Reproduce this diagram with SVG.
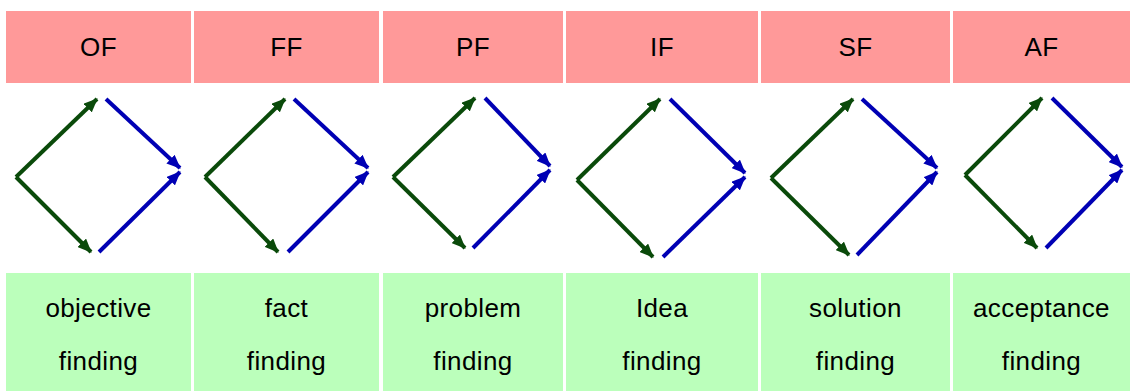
<svg xmlns="http://www.w3.org/2000/svg" width="1131" height="391" viewBox="0 0 1131 391">
<style>
.hd{fill:#ff9999}
.ft{fill:#bbffbb}
.t{font-family:"Liberation Sans",Arial,sans-serif;font-size:26px;fill:#000;text-anchor:middle;letter-spacing:0.4px}
.g{stroke:#0a4a0a;stroke-width:4;fill:none;marker-end:url(#ag)}
.b{stroke:#0000b4;stroke-width:4;fill:none;marker-end:url(#ab)}
</style>
<defs>
<marker id="ag" markerUnits="userSpaceOnUse" markerWidth="14" markerHeight="12" refX="13" refY="6" orient="auto"><path d="M0,0 L14,6 L0,12 Z" fill="#0a4a0a"/></marker>
<marker id="ab" markerUnits="userSpaceOnUse" markerWidth="14" markerHeight="12" refX="13" refY="6" orient="auto"><path d="M0,0 L14,6 L0,12 Z" fill="#0000b4"/></marker>
</defs>
<rect width="1131" height="391" fill="#fff"/>
<g id="col-OF">
<rect class="hd" x="6" y="11" width="185" height="72"/>
<text class="t" x="98.5" y="56">OF</text>
<rect class="ft" x="6" y="273" width="185" height="118"/>
<text class="t" x="98.5" y="317">objective</text>
<text class="t" x="98.5" y="370">finding</text>
</g>
<g id="col-FF">
<rect class="hd" x="194" y="11" width="185" height="72"/>
<text class="t" x="286.5" y="56">FF</text>
<rect class="ft" x="194" y="273" width="185" height="118"/>
<text class="t" x="286.5" y="317">fact</text>
<text class="t" x="286.5" y="370">finding</text>
</g>
<g id="col-PF">
<rect class="hd" x="383" y="11" width="180" height="72"/>
<text class="t" x="473" y="56">PF</text>
<rect class="ft" x="383" y="273" width="180" height="118"/>
<text class="t" x="473" y="317">problem</text>
<text class="t" x="473" y="370">finding</text>
</g>
<g id="col-IF">
<rect class="hd" x="566" y="11" width="192" height="72"/>
<text class="t" x="662" y="56">IF</text>
<rect class="ft" x="566" y="273" width="192" height="118"/>
<text class="t" x="662" y="317">Idea</text>
<text class="t" x="662" y="370">finding</text>
</g>
<g id="col-SF">
<rect class="hd" x="761" y="11" width="189" height="72"/>
<text class="t" x="855.5" y="56">SF</text>
<rect class="ft" x="761" y="273" width="189" height="118"/>
<text class="t" x="855.5" y="317">solution</text>
<text class="t" x="855.5" y="370">finding</text>
</g>
<g id="col-AF">
<rect class="hd" x="953" y="11" width="177" height="72"/>
<text class="t" x="1041.5" y="56">AF</text>
<rect class="ft" x="953" y="273" width="177" height="118"/>
<text class="t" x="1041.5" y="317">acceptance</text>
<text class="t" x="1041.5" y="370">finding</text>
</g>
<g id="connectors">
<path class="g" d="M16,177 L97,99"/>
<path class="g" d="M16,177 L91,252"/>
<path class="b" d="M106,99 L180,168"/>
<path class="b" d="M99,252 L180,172"/>

<path class="g" d="M205,177 L285,99"/>
<path class="g" d="M205,177 L278,252"/>
<path class="b" d="M294,99 L368,168"/>
<path class="b" d="M288,252 L368,172"/>

<path class="g" d="M393,177 L475,98"/>
<path class="g" d="M393,177 L465,248"/>
<path class="b" d="M485,98 L550,166"/>
<path class="b" d="M473,248 L550,170"/>

<path class="g" d="M577,180 L660,99"/>
<path class="g" d="M577,180 L653,257"/>
<path class="b" d="M670,99 L745,173"/>
<path class="b" d="M663,257 L745,177"/>

<path class="g" d="M771,178 L853,99"/>
<path class="g" d="M771,178 L849,255"/>
<path class="b" d="M862,99 L937,168"/>
<path class="b" d="M857,255 L937,172"/>

<path class="g" d="M965,175 L1042,98"/>
<path class="g" d="M965,175 L1037,248"/>
<path class="b" d="M1052,98 L1122,167"/>
<path class="b" d="M1046,248 L1122,170"/>
</g>
</svg>
